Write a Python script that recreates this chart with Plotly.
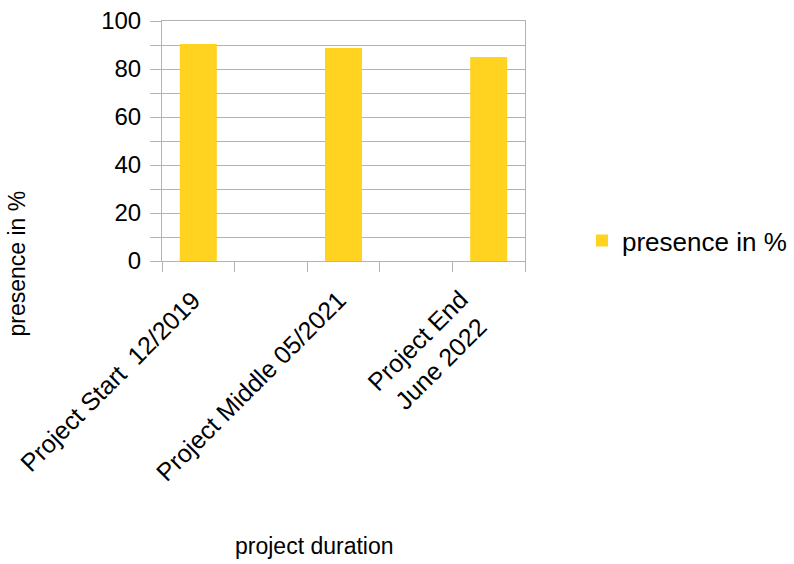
import plotly.graph_objects as go

# Category slots along the time axis; the unnamed slots stay empty.
categories = [
    "Project Start\u00a0 12/2019",
    " ",
    "Project Middle 05/2021",
    "  ",
    "Project End<br>June 2022",
]
presence = [90.4, None, 88.8, None, 85.0]
series_name = "presence in %"

FONT = "Liberation Sans, Arial, sans-serif"
GRID = "#b3b3b3"

fig = go.Figure(
    go.Bar(
        x=categories,
        y=presence,
        name=series_name,
        marker=dict(color="#ffd320", line=dict(width=0)),
        width=0.51,
        showlegend=True,
    )
)

fig.update_layout(
    width=794,
    height=564,
    margin=dict(l=162, r=269, t=21, b=302.5, autoexpand=False),
    paper_bgcolor="white",
    plot_bgcolor="white",
    font=dict(family=FONT, size=24, color="black"),
    showlegend=True,
    legend=dict(
        x=1.157,
        y=0.085,
        xanchor="left",
        yanchor="middle",
        font=dict(size=26),
        bgcolor="rgba(0,0,0,0)",
    ),
)

fig.update_xaxes(
    type="category",
    categoryorder="array",
    categoryarray=categories,
    range=[-0.5, len(categories) - 0.5],
    tickson="boundaries",
    ticks="outside",
    ticklen=10,
    tickcolor=GRID,
    tickwidth=1,
    showticklabels=False,
    showgrid=False,
    showline=True,
    linecolor=GRID,
    mirror=True,
    zeroline=False,
)

fig.update_yaxes(
    range=[0, 100],
    dtick=20,
    ticks="outside",
    ticklen=11,
    tickcolor=GRID,
    ticklabelstandoff=4,
    showgrid=True,
    gridcolor=GRID,
    showline=True,
    linecolor=GRID,
    mirror=True,
    zeroline=False,
    tickfont=dict(size=24),
    minor=dict(dtick=10, showgrid=True, gridcolor=GRID, ticks="outside", ticklen=11, tickcolor=GRID),
)

# Rotated category labels, centred line by line, hanging below each bar slot
for i, cat in enumerate(categories):
    if not cat.strip():
        continue
    fig.add_annotation(
        text=cat, xref="x", yref="paper",
        x=i, y=-0.08,
        xanchor="right", yanchor="top",
        xshift=9, yshift=-4,
        textangle=-45, align="center",
        showarrow=False, font=dict(size=25),
        borderpad=0,
    )

# Axis titles
fig.add_annotation(
    text="presence in %", xref="paper", yref="paper",
    x=(17 - 162) / 363, y=(261.5 - 264) / 240.5,
    showarrow=False, textangle=-90, font=dict(size=23),
    xanchor="center", yanchor="middle",
)
fig.add_annotation(
    text="project duration", xref="paper", yref="paper",
    x=(314 - 162) / 363, y=(261.5 - 547) / 240.5,
    showarrow=False, font=dict(size=23),
    xanchor="center", yanchor="middle",
)

fig.write_html("out.html")
